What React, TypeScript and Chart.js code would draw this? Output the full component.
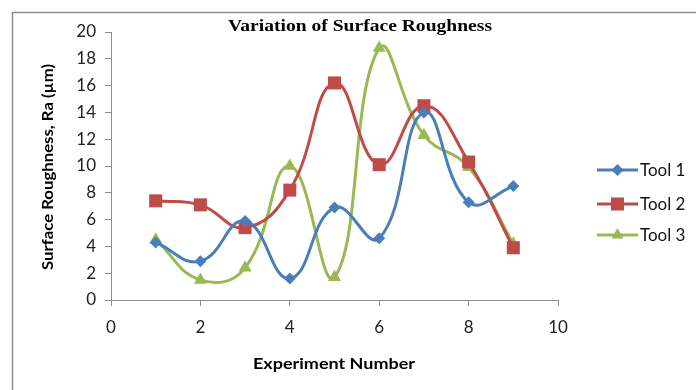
import React, { useEffect, useRef } from "react";
import { Chart, registerables } from "chart.js";

Chart.register(...registerables);

const experiments = [1, 2, 3, 4, 5, 6, 7, 8, 9];
const tool1 = [4.3, 2.9, 5.9, 1.6, 6.9, 4.6, 14.0, 7.3, 8.5];
const tool2 = [7.4, 7.1, 5.4, 8.2, 16.2, 10.1, 14.5, 10.3, 3.9];
const tool3 = [4.5, 1.5, 2.4, 10.0, 1.7, 18.8, 12.3, 9.9, 4.2];
const seriesNames = ["Tool 1", "Tool 2", "Tool 3"];
const colors = ["#4A7EBB", "#BE4B48", "#98B954"];
const titleText = "Variation of Surface Roughness";
const xTitle = "Experiment Number";
const yTitle = "Surface Roughness, Ra (\u00b5m)";

function fitText(ctx: CanvasRenderingContext2D, text: string, cx: number, cy: number, targetW: number, font: string, color: string, rotate = 0) {
  ctx.save();
  ctx.font = font;
  ctx.fillStyle = color;
  ctx.textAlign = "center";
  ctx.textBaseline = "middle";
  const w = ctx.measureText(text).width;
  const sx = targetW / w;
  ctx.translate(cx, cy);
  if (rotate) ctx.rotate(rotate);
  ctx.scale(sx, 1);
  ctx.fillText(text, 0, 0);
  ctx.restore();
}

function drawMarker(ctx: CanvasRenderingContext2D, kind: number, x: number, y: number, color: string) {
  ctx.save();
  ctx.fillStyle = color;
  ctx.beginPath();
  if (kind === 0) {
    const r = 6;
    ctx.moveTo(x - r, y);
    ctx.lineTo(x, y - r);
    ctx.lineTo(x + r, y);
    ctx.lineTo(x, y + r);
  } else if (kind === 1) {
    ctx.rect(x - 6.5, y - 6.5, 13, 13);
  } else {
    const r = 7;
    ctx.moveTo(x, y - r);
    ctx.lineTo(x + r * 0.866, y + r * 0.5);
    ctx.lineTo(x - r * 0.866, y + r * 0.5);
  }
  ctx.closePath();
  ctx.fill();
  ctx.restore();
}

const decorPlugin = {
  id: "decor",
  afterDraw(chart: any) {
    const ctx: CanvasRenderingContext2D = chart.ctx;
    // outer frame
    ctx.save();
    ctx.strokeStyle = "#8c8c8c";
    ctx.lineWidth = 1.5;
    ctx.beginPath();
    ctx.moveTo(12.5, 400);
    ctx.lineTo(12.5, 12.5);
    ctx.lineTo(700, 12.5);
    ctx.stroke();
    ctx.restore();
    // title
    fitText(ctx, titleText, 360, 27, 264, "bold 16px 'Liberation Serif'", "#000");
    // axis titles
    fitText(ctx, xTitle, 334, 364, 162, "bold 15px Lato", "#000");
    fitText(ctx, yTitle, 48, 167, 206, "bold 15px Lato", "#000", -Math.PI / 2);
    // legend
    const ys = [170, 204, 235];
    for (let i = 0; i < 3; i++) {
      ctx.save();
      ctx.strokeStyle = colors[i];
      ctx.lineWidth = 3;
      ctx.beginPath();
      ctx.moveTo(597, ys[i]);
      ctx.lineTo(638, ys[i]);
      ctx.stroke();
      ctx.restore();
      drawMarker(ctx, i, 617.5, ys[i], colors[i]);
      ctx.save();
      ctx.font = "17px Lato";
      ctx.fillStyle = "#111";
      ctx.textAlign = "left";
      ctx.textBaseline = "middle";
      ctx.fillText(seriesNames[i], 640, ys[i] + 1);
      ctx.restore();
    }
  },
};

export default function App() {
  const ref = useRef<HTMLCanvasElement>(null);
  useEffect(() => {
    if (!ref.current) return;
    const mk = (vals: number[]) => experiments.map((x, i) => ({ x, y: vals[i] }));
    const chart = new Chart(ref.current, {
      type: "line",
      data: {
        datasets: [
          { label: seriesNames[0], data: mk(tool1), borderColor: colors[0], backgroundColor: colors[0], pointStyle: "rectRot", pointRadius: 6, pointBorderWidth: 0 },
          { label: seriesNames[1], data: mk(tool2), borderColor: colors[1], backgroundColor: colors[1], pointStyle: "rect", pointRadius: 9.2, pointBorderWidth: 0 },
          { label: seriesNames[2], data: mk(tool3), borderColor: colors[2], backgroundColor: colors[2], pointStyle: "triangle", pointRadius: 7.5, pointBorderWidth: 0 },
        ].map((d) => ({ ...d, borderWidth: 3, tension: 0.45, fill: false })) as any,
      },
      options: {
        animation: false,
        responsive: false,
        layout: { padding: { left: 0, top: 32, right: 138, bottom: 0 } },
        plugins: { legend: { display: false }, title: { display: false }, tooltip: { enabled: false } },
        scales: {
          x: {
            type: "linear",
            min: 0,
            max: 10,
            ticks: { stepSize: 2, color: "#222", font: { family: "Lato", size: 17 }, padding: 11 },
            grid: { drawOnChartArea: false, drawTicks: true, tickLength: 6, color: "#8c8c8c" },
            border: { color: "#8c8c8c", width: 1 },
            afterFit: (s: any) => { s.height = 90; },
          },
          y: {
            min: 0,
            max: 20,
            ticks: { stepSize: 2, color: "#222", font: { family: "Lato", size: 17 }, padding: 9 },
            grid: { drawOnChartArea: false, drawTicks: true, tickLength: 6, color: "#8c8c8c" },
            border: { color: "#8c8c8c", width: 1 },
            afterFit: (s: any) => { s.width = 111; },
          },
        },
      },
      plugins: [decorPlugin],
    });
    return () => chart.destroy();
  }, []);
  return (
    <div style={{ position: "fixed", left: 0, top: 0, width: 696, height: 390, background: "#fff" }}>
      <canvas ref={ref} width={696} height={390} style={{ width: 696, height: 390 }} />
    </div>
  );
}
